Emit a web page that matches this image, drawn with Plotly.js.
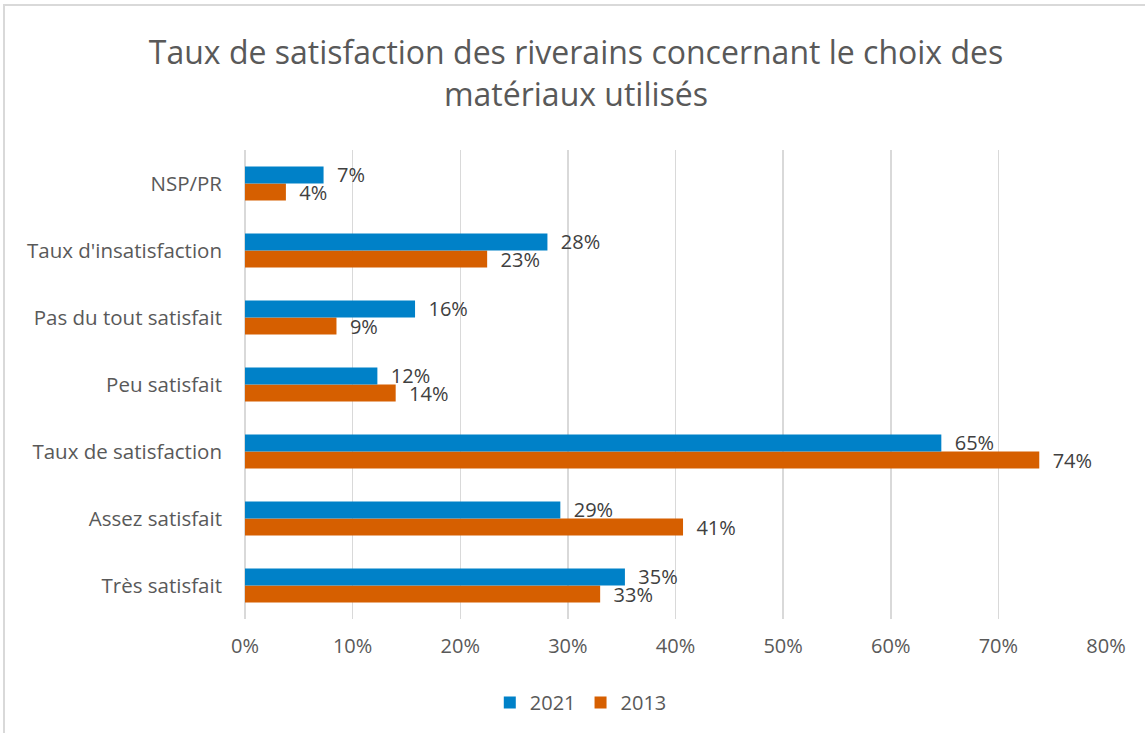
<!DOCTYPE html>
<html>
<head>
<meta charset="utf-8">
<script src="https://cdn.plot.ly/plotly-3.0.1.min.js"></script>
<style>
  html, body { margin: 0; padding: 0; background: #fff; overflow: hidden; }
  #plot {
    position: absolute; left: 3px; top: 4px;
    width: 1142px; height: 729px;
    border-top: 2px solid #d9d9d9; border-left: 2px solid #d9d9d9;
    box-sizing: border-box;
  }
</style>
</head>
<body>
<div id="plot"></div>
<script>
// categories, bottom to top
var categories = ["Très satisfait", "Assez satisfait", "Taux de satisfaction", "Peu satisfait",
                  "Pas du tout satisfait", "Taux d'insatisfaction", "NSP/PR"];

var values2021 = [0.353, 0.293, 0.647, 0.123, 0.158, 0.281, 0.073];
var values2013 = [0.330, 0.407, 0.738, 0.140, 0.085, 0.225, 0.038];

var fontFamily = "'Open Sans', sans-serif";
var labelFont = { family: fontFamily, size: 20, color: "#404040" };

var trace2013 = {
  type: "bar",
  orientation: "h",
  name: "2013",
  y: categories,
  x: values2013,
  marker: { color: "#D65F00" },
  texttemplate: "  %{x:.0%}",
  textposition: "outside",
  textfont: labelFont,
  constraintext: "none",
  cliponaxis: false,
  hoverinfo: "none"
};

var trace2021 = {
  type: "bar",
  orientation: "h",
  name: "2021",
  y: categories,
  x: values2021,
  marker: { color: "#0081C8" },
  texttemplate: "  %{x:.0%}",
  textposition: "outside",
  textfont: labelFont,
  constraintext: "none",
  cliponaxis: false,
  hoverinfo: "none"
};

var data = [trace2013, trace2021];

var layout = {
  title: {
    text: "Taux de satisfaction des riverains concernant le choix des<br>matériaux utilisés",
    font: { family: fontFamily, size: 32, color: "#595959" },
    xref: "container", x: 0.5, xanchor: "center",
    yref: "container", y: 0.92, yanchor: "top"
  },
  barmode: "group",
  bargap: 0.49,
  bargroupgap: 0,
  margin: { l: 240, r: 41, t: 144, b: 116 },
  paper_bgcolor: "#fff",
  plot_bgcolor: "#fff",
  font: { family: fontFamily, size: 20, color: "#595959" },
  xaxis: {
    range: [0, 0.8],
    dtick: 0.1,
    tickformat: ".0%",
    showgrid: true,
    gridcolor: "#d9d9d9",
    gridwidth: 1.5,
    zeroline: true,
    zerolinecolor: "#d9d9d9",
    zerolinewidth: 1.5,
    showline: false,
    ticks: "",
    ticklabelstandoff: 13,
    tickfont: { size: 20, color: "#595959" },
    fixedrange: true
  },
  yaxis: {
    showgrid: false,
    zeroline: false,
    showline: false,
    ticks: "",
    ticklabelstandoff: 22,
    tickfont: { size: 20.5, color: "#595959" },
    fixedrange: true
  },
  showlegend: true,
  legend: {
    orientation: "h",
    traceorder: "reversed",
    x: 0.39, xanchor: "center",
    y: -0.178, yanchor: "middle",
    font: { size: 20, color: "#595959" }
  }
};

Plotly.newPlot("plot", data, layout, { displayModeBar: false, staticPlot: true });
</script>
</body>
</html>
